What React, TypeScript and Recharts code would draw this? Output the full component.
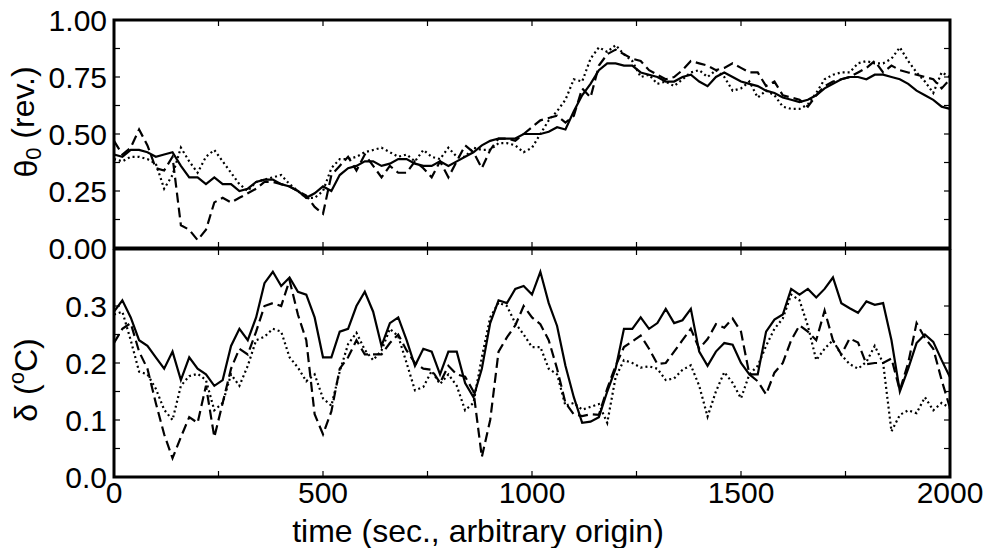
import { LineChart, Line, XAxis, YAxis, ReferenceArea } from "recharts"

// time grid (s), sampled every 20 s
const time = [
  0, 20, 40, 60, 80, 100, 120, 140, 160, 180, 200, 220, 240, 260, 280, 300, 320, 340, 360, 380,
  400, 420, 440, 460, 480, 500, 520, 540, 560, 580, 600, 620, 640, 660, 680, 700, 720, 740, 760, 780,
  800, 820, 840, 860, 880, 900, 920, 940, 960, 980, 1000, 1020, 1040, 1060, 1080, 1100, 1120, 1140, 1160, 1180,
  1200, 1220, 1240, 1260, 1280, 1300, 1320, 1340, 1360, 1380, 1400, 1420, 1440, 1460, 1480, 1500, 1520, 1540, 1560, 1580,
  1600, 1620, 1640, 1660, 1680, 1700, 1720, 1740, 1760, 1780, 1800, 1820, 1840, 1860, 1880, 1900, 1920, 1940, 1960, 1980,
  2000,
]

// theta_0 (rev.)
const thetaSolid = [
  0.41, 0.40, 0.43, 0.43, 0.42, 0.40, 0.41, 0.42, 0.36, 0.31, 0.31, 0.28, 0.31, 0.28, 0.28, 0.25, 0.26, 0.29, 0.30, 0.30,
  0.28, 0.27, 0.25, 0.22, 0.24, 0.27, 0.25, 0.32, 0.35, 0.36, 0.38, 0.38, 0.36, 0.37, 0.39, 0.39, 0.37, 0.36, 0.36, 0.38,
  0.36, 0.38, 0.40, 0.42, 0.45, 0.47, 0.48, 0.48, 0.48, 0.50, 0.50, 0.50, 0.51, 0.53, 0.52, 0.60, 0.67, 0.72, 0.78, 0.81,
  0.81, 0.80, 0.80, 0.77, 0.76, 0.75, 0.73, 0.73, 0.75, 0.76, 0.73, 0.71, 0.75, 0.77, 0.75, 0.73, 0.72, 0.71, 0.69, 0.68,
  0.66, 0.65, 0.64, 0.65, 0.67, 0.70, 0.72, 0.74, 0.75, 0.75, 0.74, 0.76, 0.76, 0.75, 0.74, 0.72, 0.69, 0.67, 0.65, 0.62,
  0.61,
]
const thetaDashed = [
  0.47, 0.41, 0.44, 0.52, 0.45, 0.35, 0.34, 0.40, 0.10, 0.08, 0.035, 0.08, 0.20, 0.22, 0.20, 0.22, 0.24, 0.26, 0.29, 0.29,
  0.28, 0.27, 0.25, 0.23, 0.18, 0.15, 0.32, 0.36, 0.40, 0.34, 0.41, 0.36, 0.31, 0.36, 0.33, 0.33, 0.38, 0.35, 0.31, 0.38,
  0.31, 0.38, 0.45, 0.42, 0.35, 0.43, 0.48, 0.48, 0.47, 0.50, 0.53, 0.56, 0.57, 0.58, 0.55, 0.58, 0.70, 0.66, 0.80, 0.85,
  0.87, 0.85, 0.83, 0.82, 0.78, 0.76, 0.74, 0.75, 0.78, 0.82, 0.81, 0.80, 0.78, 0.79, 0.81, 0.79, 0.77, 0.77, 0.71, 0.73,
  0.67, 0.66, 0.65, 0.62, 0.67, 0.71, 0.73, 0.74, 0.75, 0.77, 0.79, 0.82, 0.77, 0.80, 0.78, 0.77, 0.76, 0.75, 0.74, 0.70,
  0.74,
]
const thetaDotted = [
  0.39, 0.38, 0.40, 0.40, 0.39, 0.37, 0.26, 0.32, 0.44, 0.38, 0.33, 0.40, 0.43, 0.38, 0.33, 0.28, 0.25, 0.29, 0.30, 0.31,
  0.32, 0.28, 0.25, 0.22, 0.22, 0.25, 0.35, 0.39, 0.39, 0.40, 0.42, 0.43, 0.44, 0.42, 0.40, 0.41, 0.38, 0.43, 0.40, 0.39,
  0.44, 0.40, 0.40, 0.44, 0.43, 0.43, 0.46, 0.46, 0.45, 0.42, 0.44, 0.50, 0.56, 0.60, 0.65, 0.74, 0.73, 0.83, 0.88, 0.86,
  0.89, 0.85, 0.82, 0.75, 0.76, 0.72, 0.73, 0.71, 0.74, 0.77, 0.78, 0.75, 0.78, 0.75, 0.69, 0.70, 0.73, 0.66, 0.69, 0.67,
  0.62, 0.61, 0.61, 0.63, 0.68, 0.74, 0.76, 0.77, 0.77, 0.81, 0.82, 0.81, 0.81, 0.83, 0.88, 0.82, 0.77, 0.73, 0.68, 0.77,
  0.75,
]

// delta (oC)
const deltaSolid = [
  0.29, 0.31, 0.28, 0.24, 0.23, 0.21, 0.19, 0.22, 0.17, 0.21, 0.19, 0.18, 0.16, 0.17, 0.23, 0.26, 0.24, 0.28, 0.34, 0.36,
  0.335, 0.35, 0.325, 0.32, 0.28, 0.21, 0.21, 0.255, 0.26, 0.30, 0.325, 0.29, 0.23, 0.27, 0.28, 0.24, 0.195, 0.225, 0.22, 0.18,
  0.22, 0.22, 0.165, 0.14, 0.19, 0.27, 0.31, 0.305, 0.33, 0.335, 0.32, 0.36, 0.305, 0.265, 0.195, 0.14, 0.095, 0.097, 0.105, 0.15,
  0.19, 0.26, 0.26, 0.28, 0.26, 0.27, 0.295, 0.27, 0.275, 0.295, 0.22, 0.195, 0.22, 0.235, 0.232, 0.20, 0.18, 0.18, 0.255, 0.276,
  0.285, 0.33, 0.32, 0.33, 0.315, 0.33, 0.35, 0.305, 0.296, 0.288, 0.308, 0.302, 0.305, 0.24, 0.15, 0.19, 0.235, 0.25, 0.237, 0.205,
  0.175,
]
const deltaDashed = [
  0.235, 0.26, 0.27, 0.22, 0.19, 0.13, 0.075, 0.033, 0.07, 0.105, 0.095, 0.16, 0.07, 0.13, 0.19, 0.225, 0.215, 0.255, 0.30, 0.305,
  0.30, 0.345, 0.285, 0.24, 0.11, 0.075, 0.115, 0.19, 0.21, 0.24, 0.215, 0.215, 0.215, 0.235, 0.25, 0.222, 0.20, 0.19, 0.188, 0.165,
  0.195, 0.18, 0.176, 0.15, 0.035, 0.10, 0.22, 0.245, 0.266, 0.30, 0.28, 0.268, 0.24, 0.19, 0.13, 0.11, 0.107, 0.11, 0.109, 0.155,
  0.195, 0.228, 0.238, 0.248, 0.225, 0.198, 0.20, 0.22, 0.24, 0.26, 0.225, 0.242, 0.268, 0.262, 0.278, 0.255, 0.18, 0.168, 0.145, 0.183,
  0.20, 0.24, 0.266, 0.255, 0.24, 0.292, 0.24, 0.215, 0.243, 0.236, 0.198, 0.20, 0.20, 0.208, 0.152, 0.20, 0.27, 0.244, 0.225, 0.17,
  0.121,
]
const deltaDotted = [
  0.285, 0.29, 0.24, 0.185, 0.18, 0.155, 0.118, 0.10, 0.16, 0.177, 0.181, 0.17, 0.117, 0.13, 0.18, 0.16, 0.195, 0.24, 0.246, 0.26,
  0.255, 0.21, 0.192, 0.168, 0.18, 0.138, 0.125, 0.185, 0.233, 0.253, 0.223, 0.205, 0.222, 0.26, 0.247, 0.20, 0.152, 0.158, 0.186, 0.163,
  0.18, 0.16, 0.117, 0.13, 0.21, 0.28, 0.306, 0.30, 0.27, 0.25, 0.228, 0.228, 0.19, 0.18, 0.125, 0.13, 0.118, 0.123, 0.128, 0.095,
  0.175, 0.205, 0.20, 0.192, 0.194, 0.19, 0.17, 0.173, 0.188, 0.196, 0.16, 0.106, 0.15, 0.184, 0.165, 0.138, 0.18, 0.195, 0.23, 0.26,
  0.278, 0.32, 0.31, 0.265, 0.205, 0.225, 0.24, 0.214, 0.198, 0.19, 0.202, 0.23, 0.20, 0.08, 0.109, 0.117, 0.112, 0.14, 0.117, 0.13,
  0.121,
]

const xTicks = [0, 250, 500, 750, 1000, 1250, 1500, 1750, 2000]
const thetaTicks = [0, 0.125, 0.25, 0.375, 0.5, 0.625, 0.75, 0.875, 1]
const deltaTicks = [0, 0.05, 0.1, 0.15, 0.2, 0.25, 0.3, 0.35, 0.4]

const topRows = time.map((t, i) => ({ t, a: thetaSolid[i], b: thetaDashed[i], c: thetaDotted[i] }))
const bottomRows = time.map((t, i) => ({ t, a: deltaSolid[i], b: deltaDashed[i], c: deltaDotted[i] }))

const FONT = "'Liberation Sans', Arial, Helvetica, sans-serif"
const W = 987
const PLOT_W = 836
const PLOT_H = 228
const TICK = 6

function isMultiple(v: number, step: number) {
  return Math.abs(v / step - Math.round(v / step)) < 1e-6
}

function XTick(props: any) {
  const { x, y, payload, showLabel } = props
  const v = payload.value
  const edge = v === 0 || v === 2000
  return (
    <g>
      {!edge && <line x1={x} y1={y} x2={x} y2={y - TICK} stroke="#000" strokeWidth={1.2} />}
      {!edge && <line x1={x} y1={y - PLOT_H} x2={x} y2={y - PLOT_H + TICK} stroke="#000" strokeWidth={1.2} />}
      {showLabel && isMultiple(v, 500) && (
        <text x={x} y={y + 26} textAnchor="middle" fontSize={30} fontFamily={FONT} fill="#000">
          {v}
        </text>
      )}
    </g>
  )
}

function YTick(props: any) {
  const { x, y, payload, step, digits, top, labelTop } = props
  const v = payload.value
  const edge = v === 0 || v === top
  const showLabel = isMultiple(v, step) && (labelTop || v !== top)
  return (
    <g>
      {!edge && <line x1={x} y1={y} x2={x + TICK} y2={y} stroke="#000" strokeWidth={1.2} />}
      {!edge && <line x1={x + PLOT_W} y1={y} x2={x + PLOT_W - TICK} y2={y} stroke="#000" strokeWidth={1.2} />}
      {showLabel && (
        <text x={x - 7} y={y} dy="0.36em" textAnchor="end" fontSize={30} fontFamily={FONT} fill="#000">
          {v.toFixed(digits)}
        </text>
      )}
    </g>
  )
}

function ThetaLabel(props: any) {
  const vb = props.viewBox
  const cx = vb.x + 26
  const cy = vb.y + vb.height / 2 - 12
  return (
    <text
      x={cx}
      y={cy}
      transform={`rotate(-90, ${cx}, ${cy})`}
      textAnchor="middle"
      dominantBaseline="central"
      fontSize={32}
      fontFamily={FONT}
      fill="#000"
    >
      θ<tspan fontSize={22} dy="0.3em">0</tspan>
      <tspan dy="-0.3em"> (rev.)</tspan>
    </text>
  )
}

function DeltaLabel(props: any) {
  const vb = props.viewBox
  const cx = vb.x + 26
  const cy = vb.y + vb.height / 2 + 17
  return (
    <text
      x={cx}
      y={cy}
      transform={`rotate(-90, ${cx}, ${cy})`}
      textAnchor="middle"
      dominantBaseline="central"
      fontSize={32}
      fontFamily={FONT}
      fill="#000"
    >
      δ (<tspan fontSize={22} dy="-0.45em">o</tspan>
      <tspan dy="0.3em">C)</tspan>
    </text>
  )
}

function TimeLabel(props: any) {
  const vb = props.viewBox
  return (
    <text
      x={vb.x + vb.width / 2 - 54}
      y={vb.y + 65}
      textAnchor="middle"
      fontSize={32}
      fontFamily={FONT}
      fill="#000"
    >
      time (sec., arbitrary origin)
    </text>
  )
}

export default function App() {
  const lineProps = { type: "linear" as const, dot: false, isAnimationActive: false, stroke: "#000", strokeWidth: 2.2 }
  return (
    <div style={{ position: "absolute", left: 0, top: 0, width: W, height: 548, background: "#fff" }}>
      <div style={{ position: "absolute", left: 0, top: 249 }}>
        <LineChart width={W} height={299} data={bottomRows} margin={{ top: 0, right: 37, bottom: 0, left: 0 }}>
          <XAxis
            dataKey="t"
            type="number"
            domain={[0, 2000]}
            ticks={xTicks}
            height={71}
            axisLine={false}
            tickLine={false}
            tickSize={0}
            tickMargin={0}
            tick={<XTick showLabel={true} />}
            label={{ content: <TimeLabel /> }}
          />
          <YAxis
            type="number"
            domain={[0, 0.4]}
            ticks={deltaTicks}
            width={114}
            axisLine={false}
            tickLine={false}
            tickSize={0}
            tickMargin={0}
            tick={<YTick step={0.1} digits={1} top={0.4} labelTop={false} />}
            label={{ content: <DeltaLabel /> }}
          />
          <ReferenceArea x1={0} x2={2000} y1={0} y2={0.4} fill="none" stroke="#000" strokeWidth={3} ifOverflow="visible" />
          <Line dataKey="a" {...lineProps} />
          <Line dataKey="b" {...lineProps} strokeDasharray="10 5" />
          <Line dataKey="c" {...lineProps} strokeDasharray="2 3" />
        </LineChart>
      </div>
      <div style={{ position: "absolute", left: 0, top: 0 }}>
        <LineChart width={W} height={272} data={topRows} margin={{ top: 20, right: 37, bottom: 12, left: 0 }}>
          <XAxis
            dataKey="t"
            type="number"
            domain={[0, 2000]}
            ticks={xTicks}
            height={12}
            axisLine={false}
            tickLine={false}
            tickSize={0}
            tickMargin={0}
            tick={<XTick showLabel={false} />}
          />
          <YAxis
            type="number"
            domain={[0, 1]}
            ticks={thetaTicks}
            width={114}
            axisLine={false}
            tickLine={false}
            tickSize={0}
            tickMargin={0}
            tick={<YTick step={0.25} digits={2} top={1} labelTop={true} />}
            label={{ content: <ThetaLabel /> }}
          />
          <ReferenceArea x1={0} x2={2000} y1={0} y2={1} fill="none" stroke="#000" strokeWidth={3} ifOverflow="visible" />
          <Line dataKey="a" {...lineProps} />
          <Line dataKey="b" {...lineProps} strokeDasharray="10 5" />
          <Line dataKey="c" {...lineProps} strokeDasharray="2 3" />
        </LineChart>
      </div>
    </div>
  )
}
